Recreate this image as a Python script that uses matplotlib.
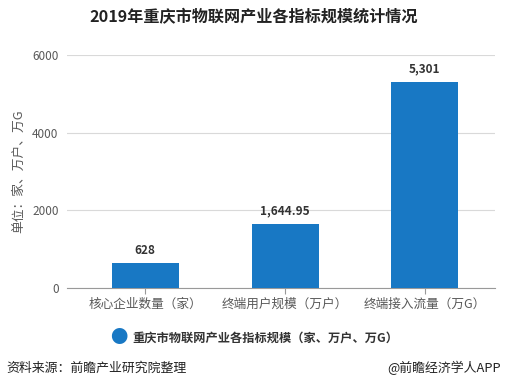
import matplotlib

matplotlib.use("Agg", force=True)
import matplotlib.pyplot as plt

plt.rcParams["font.family"] = ["Noto Sans CJK SC", "DejaVu Sans"]

categories = ["核心企业数量（家）", "终端用户规模（万户）", "终端接入流量（万G）"]
values = [628, 1644.95, 5301]
value_labels = ["628", "1,644.95", "5,301"]
y_ticks = [0, 2000, 4000, 6000]

title = "2019年重庆市物联网产业各指标规模统计情况"
y_label = "单位：家、万户、万G"
legend_label = "重庆市物联网产业各指标规模（家、万户、万G）"
source_left = "资料来源：前瞻产业研究院整理"
source_right = "@前瞻经济学人APP"

bar_color = "#1878c4"
text_gray = "#595959"

fig = plt.figure(figsize=(5.07, 3.89), dpi=100)
ax = fig.add_axes([0.132, 0.26, 0.844, 0.599])

x = list(range(len(categories)))
ax.bar(x, values, width=0.48, color=bar_color, zorder=3)
for xi, v, lab in zip(x, values, value_labels):
    ax.text(xi, v + 170, lab, ha="center", va="bottom", fontsize=8.5,
            fontweight="bold", color="#333333")

ax.set_xlim(-0.56, 2.5)
ax.set_ylim(0, 6000)
ax.set_yticks(y_ticks)
ax.set_yticklabels([str(t) for t in y_ticks], fontsize=8.5, color=text_gray)
ax.set_xticks(x)
ax.set_xticklabels(categories, fontsize=9.1, color=text_gray)
ax.tick_params(axis="y", length=0, pad=6)
ax.tick_params(axis="x", length=4, color="#999999", pad=3)
ax.grid(axis="y", color="#d9d9d9", linewidth=0.8, zorder=0)
for side in ["top", "right", "left"]:
    ax.spines[side].set_visible(False)
ax.spines["bottom"].set_color("#999999")
ax.set_ylabel(y_label, fontsize=9.2, color=text_gray, labelpad=5)

fig.text(0.5, 0.957, title, ha="center", va="center", fontsize=11.6,
         fontweight="bold", color="#222222")

fig.text(0.235, 0.131, "●", ha="center", va="center", fontsize=12.5, color=bar_color)
fig.text(0.262, 0.131, legend_label, ha="left", va="center", fontsize=8.8,
         fontweight="bold", color="#333333")

fig.text(0.012, 0.054, source_left, ha="left", va="center", fontsize=9.3, color="#222222")
fig.text(0.988, 0.054, source_right, ha="right", va="center", fontsize=9.3, color="#222222")

fig.savefig("out.png", dpi=100)
